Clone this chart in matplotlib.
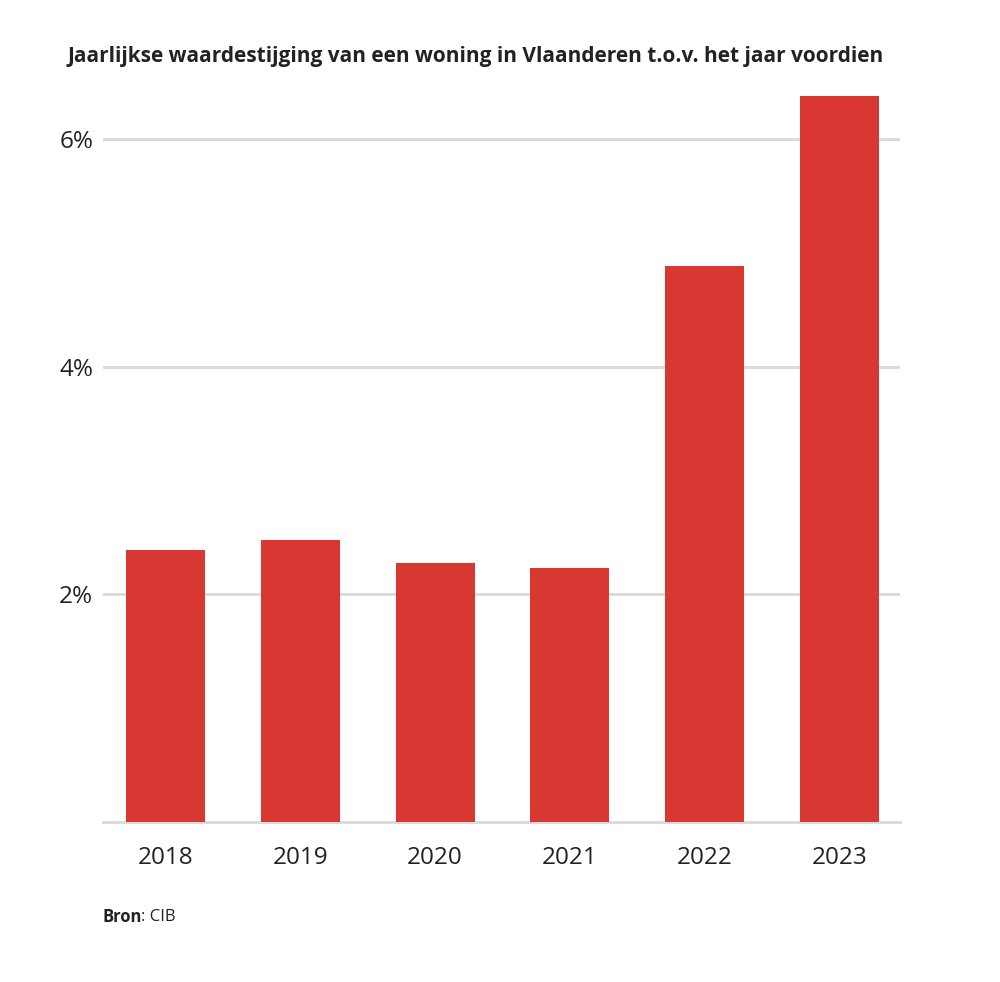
import matplotlib.pyplot as plt

# data
years = ["2018", "2019", "2020", "2021", "2022", "2023"]
growth = [2.39, 2.48, 2.28, 2.23, 4.89, 6.38]
y_ticks = [2, 4, 6]
y_labels = ["2%", "4%", "6%"]

RED = "#d93732"
GRID = "#d9d9d9"
TEXT = "#222222"

plt.rcParams["font.family"] = ["Open Sans", "DejaVu Sans"]

fig = plt.figure(figsize=(10, 9.82), dpi=100)
ax = fig.add_axes([0.103, 0.1629, 0.797, 0.7533])

x = list(range(len(years)))
ax.bar(x, growth, width=0.586, color=RED, zorder=3)

ax.set_xlim(-0.464, 5.449)
ax.set_ylim(0, 6.5)
ax.set_yticks(y_ticks)
ax.set_yticklabels(y_labels)
ax.set_xticks(x)
ax.set_xticklabels(years)
ax.tick_params(length=0, labelsize=17.5, colors=TEXT)
ax.tick_params(axis="x", pad=17)
ax.tick_params(axis="y", pad=7)
ax.grid(axis="y", color=GRID, linewidth=2, zorder=0)

for side in ["top", "right", "left"]:
    ax.spines[side].set_visible(False)
ax.spines["bottom"].set_color(GRID)
ax.spines["bottom"].set_linewidth(2)

fig.text(0.476, 0.942, "Jaarlijkse waardestijging van een woning in Vlaanderen t.o.v. het jaar voordien",
         ha="center", va="center", fontsize=15, fontweight="bold", color=TEXT)

t = fig.text(0.102, 0.066, "Bron", ha="left", va="center", fontsize=12, fontweight="bold", color=TEXT)
fig.canvas.draw()
bb = t.get_window_extent().transformed(fig.transFigure.inverted())
fig.text(bb.x1, 0.066, ": CIB", ha="left", va="center", fontsize=12, color=TEXT)

fig.savefig("out.png", dpi=100)
